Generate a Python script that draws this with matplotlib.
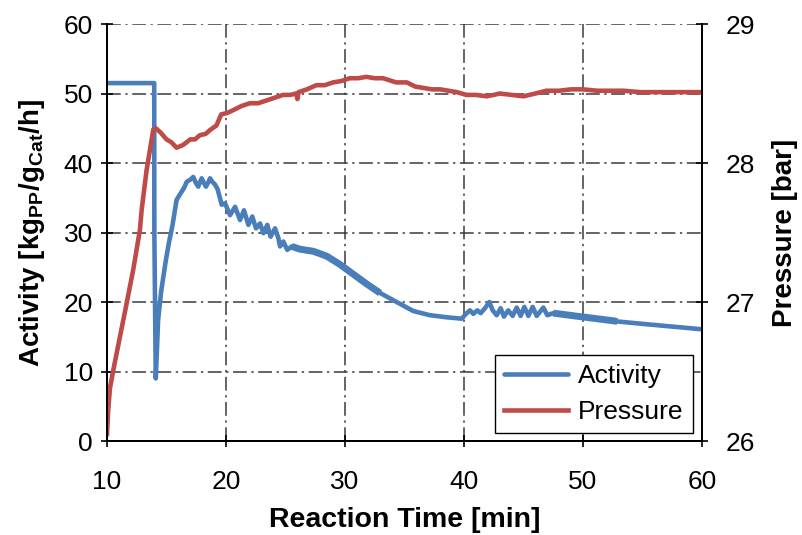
import matplotlib
matplotlib.use("Agg")
import matplotlib.pyplot as plt
import numpy as np

plt.rcParams['font.family'] = ['Liberation Sans', 'DejaVu Sans']
plt.rcParams['mathtext.fontset'] = 'custom'
plt.rcParams['mathtext.rm'] = 'Liberation Sans'
plt.rcParams['mathtext.bf'] = 'Liberation Sans:bold'

# activity [kg_PP/g_Cat/h] vs reaction time [min]
act_time = [10.0, 13.97, 13.98, 14.1, 14.3, 14.55, 14.9, 15.2, 15.5, 15.85, 16.1,
            16.5, 16.7, 17.0, 17.25, 17.45, 17.67, 17.8, 17.96, 18.15, 18.32, 18.5,
            18.66, 18.85, 19.08, 19.3, 19.64,
            19.92, 20.34, 20.76, 21.18, 21.51, 21.88, 22.21, 22.52, 22.86, 23.14,
            23.47, 23.75, 24.12, 24.4, 24.54, 24.82, 25.15, 25.52, 26.22, 27.34,
            28.46, 29.58, 30.7, 31.82, 32.94, 34.34, 35.74, 37.14, 38.55, 39.81,
            40.17, 40.5, 40.78, 41.12, 41.4, 41.76, 42.13, 42.41, 42.75, 43.08,
            43.36, 43.72, 44.09, 44.43, 44.76, 45.07, 45.41, 45.77, 46.11, 46.67,
            47.0, 47.51, 49.75, 52.55, 52.88, 55.35, 59.83, 60.0]
act_value = [51.5, 51.5, 30.0, 9.0, 17.5, 21.5, 25.5, 28.5, 31.0, 34.7, 35.4,
             36.5, 37.3, 37.6, 38.0, 37.2, 36.6, 37.2, 37.8, 37.1, 36.6, 37.2,
             37.8, 37.3, 36.9, 36.2, 34.0,
             34.2, 32.5, 33.7, 31.8, 33.2, 31.1, 32.3, 30.6, 31.3, 29.9,
             31.1, 29.4, 30.6, 29.2, 28.0, 28.7, 27.5, 28.0, 27.6, 27.3,
             26.6, 25.4, 24.0, 22.6, 21.3, 20.0, 18.7, 18.1, 17.8, 17.6,
             18.3, 18.8, 18.3, 18.8, 18.4, 19.1, 20.0, 18.8, 18.1, 19.1,
             17.9, 18.8, 18.0, 19.2, 18.0, 19.3, 18.0, 19.3, 18.0, 19.2,
             18.1, 18.4, 17.9, 17.3, 17.2, 16.8, 16.1, 16.1]

# pressure [bar] vs reaction time [min]
p_time = [10.0, 10.1, 10.25, 10.53, 11.09, 11.65, 12.2, 12.77, 12.91, 13.33,
          13.89, 14.1, 14.5, 15.0, 15.4, 15.85, 16.4, 17.0, 17.4, 17.8, 18.3, 18.7, 19.2,
          19.6, 20.1, 20.6, 21.3, 22.0, 22.7, 23.4, 24.1, 24.8, 25.4, 25.9, 26.0, 26.1,
          26.8, 27.6, 28.3, 29.0, 29.7, 30.4, 31.1, 31.8, 32.5, 33.2, 34.3, 35.2,
          35.9, 36.6, 37.3, 38.0, 38.7, 39.4, 40.2, 41.0, 41.9, 42.5, 43.0,
          44.0, 45.0, 46.0, 46.9, 48.0, 49.0, 50.0, 51.2, 52.3, 53.4, 54.8,
          56.2, 57.5, 58.8, 60.0]
p_value = [26.05, 26.22, 26.38, 26.51, 26.75, 26.99, 27.23, 27.52, 27.66, 27.95,
           28.24, 28.25, 28.22, 28.17, 28.15, 28.11, 28.13, 28.17, 28.17, 28.2, 28.21, 28.24, 28.27,
           28.35, 28.36, 28.38, 28.41, 28.43, 28.43, 28.45, 28.47, 28.49, 28.49, 28.5, 28.46, 28.51,
           28.53, 28.56, 28.56, 28.58, 28.59, 28.61, 28.61, 28.62, 28.61, 28.61, 28.58, 28.58,
           28.55, 28.54, 28.53, 28.53, 28.52, 28.51, 28.49, 28.49, 28.48, 28.49, 28.5,
           28.49, 28.48, 28.5, 28.52, 28.52, 28.53, 28.53, 28.52, 28.52, 28.52, 28.51,
           28.51, 28.51, 28.51, 28.51]

blue = '#4A7EBB'
red = '#BE4B48'

fig = plt.figure(figsize=(8.02, 5.35), dpi=100)
ax1 = fig.add_axes([0.1334, 0.1757, 0.7419, 0.7794])

t = np.array(act_time)
a = np.array(act_value)
l1, = ax1.plot(t, a, color=blue, lw=3.3, label='Activity',
               solid_joinstyle='round', solid_capstyle='round')
# noisy stretches look like a thicker band
for lo, hi in [(25.4, 33.0), (47.3, 52.9)]:
    m = (t >= lo) & (t <= hi)
    ax1.plot(t[m], a[m], color=blue, lw=5.0, solid_capstyle='butt')

ax1.set_xlim(10, 60)
ax1.set_ylim(0, 60)
ax1.set_xticks(np.arange(10, 61, 10))
ax1.set_yticks(np.arange(0, 61, 10))
ax1.grid(True, color='#3a3a3a', lw=1.1, linestyle=(0, (9, 3, 1.5, 3)))
ax1.set_xlabel('Reaction Time [min]', fontsize=20.5, fontweight='bold', labelpad=9)
ax1.set_ylabel(r'Activity [kg$_{\mathbf{PP}}$/g$_{\mathbf{Cat}}$/h]', fontsize=20,
               fontweight='bold', labelpad=12)
ax1.tick_params(axis='x', direction='inout', length=8, width=1.2, labelsize=19, pad=17)
ax1.tick_params(axis='y', direction='inout', length=8, width=1.2, labelsize=19, pad=6)

ax2 = ax1.twinx()
l2, = ax2.plot(p_time, p_value, color=red, lw=3.3, label='Pressure',
               solid_joinstyle='round')
ax2.set_ylim(26, 29)
ax2.set_yticks([26, 27, 28, 29])
ax2.set_ylabel('Pressure [bar]', fontsize=20, fontweight='bold', labelpad=12)
ax2.tick_params(direction='inout', length=8, width=1.2, labelsize=19, pad=13)

for ax in (ax1, ax2):
    ax.spines['top'].set_visible(False)
    for s in ('left', 'right', 'bottom'):
        ax.spines[s].set_linewidth(1.4)

leg = ax2.legend([l1, l2], ['Activity', 'Pressure'], loc='lower right',
                 bbox_to_anchor=(0.985, 0.018), fontsize=19, frameon=True,
                 fancybox=False, edgecolor='black', framealpha=1,
                 handlelength=2.4, handletextpad=0.4, borderpad=0.35,
                 labelspacing=0.45, borderaxespad=0.0)
leg.get_frame().set_linewidth(1.0)

fig.savefig('out.png', dpi=100)
